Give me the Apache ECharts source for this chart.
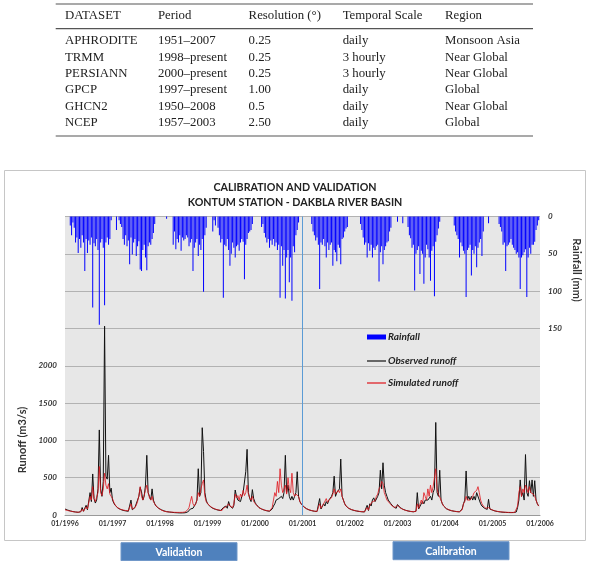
<!DOCTYPE html>
<html>
<head>
<meta charset="utf-8">
<script src="https://cdn.jsdelivr.net/npm/echarts@6.0.0/dist/echarts.min.js"></script>
<style>
  html, body { margin: 0; padding: 0; background: #fff; }
  #main { width: 590px; height: 561px; }
</style>
</head>
<body>
<div id="main"></div>
<script>
// table above the chart
var tableHeader = ['DATASET', 'Period', 'Resolution (°)', 'Temporal Scale', 'Region'];
var tableRows = [
  ['APHRODITE', '1951–2007', '0.25', 'daily', 'Monsoon Asia'],
  ['TRMM', '1998–present', '0.25', '3 hourly', 'Near Global'],
  ['PERSIANN', '2000–present', '0.25', '3 hourly', 'Near Global'],
  ['GPCP', '1997–present', '1.00', 'daily', 'Global'],
  ['GHCN2', '1950–2008', '0.5', 'daily', 'Near Global'],
  ['NCEP', '1957–2003', '2.50', 'daily', 'Global']
];

// chart data: one value per dekad (36 per year), 1996..2005
var years = [1996, 1997, 1998, 1999, 2000, 2001, 2002, 2003, 2004, 2005];
var xTicks = [1996, 1997, 1998, 1999, 2000, 2001, 2002, 2003, 2004, 2005, 2006];

var observedRunoff = [
  [80,72,66,60,55,50,46,43,40,38,36,35, 45,100,50,55,130,70,90,300,180,550,220,160, 200,350,1140,350,250,450,2530,520,480,800,300,360],
  [200,160,130,110,95,85,75,68,62,58,55,52, 50,60,200,70,80,100,120,200,250,370,310,200, 250,400,800,300,250,200,350,200,150,120,100,90],
  [80,70,62,55,50,45,42,40,38,36,34,32, 30,30,29,28,28,28,29,30,35,40,60,80, 100,90,120,150,200,620,250,300,1170,850,300,200],
  [150,130,115,100,90,82,76,70,66,62,60,58, 100,80,120,90,180,120,100,90,130,335,250,200, 220,180,250,300,280,580,880,300,220,180,340,220],
  [170,140,115,100,90,80,72,66,60,56,53,50, 50,80,120,150,200,180,220,200,250,220,300,800, 300,400,250,200,250,200,250,300,580,250,180,150],
  [130,110,95,85,75,68,62,58,54,50,48,46, 60,220,80,90,150,120,180,150,200,180,250,300, 520,250,300,280,350,750,250,250,150,120,100,90],
  [80,72,66,61,57,53,50,47,45,43,42,41, 40,130,60,150,120,200,230,180,200,250,300,600, 350,700,400,300,250,200,180,150,130,110,100,90],
  [140,120,100,88,78,70,64,58,54,50,47,45, 43,42,50,300,80,100,150,180,150,200,180,200, 220,250,200,300,350,1240,300,250,600,200,150,120],
  [100,85,75,68,62,57,53,50,47,45,43,42, 41,80,150,200,590,200,250,200,250,200,250,200, 300,280,200,150,120,100,90,80,75,210,80,70],
  [65,58,53,49,46,43,41,39,37,36,35,34, 33,33,32,32,33,35,40,100,200,470,250,300, 200,810,300,250,460,300,470,250,460,200,150,120]
];

var simulatedRunoff = [
  [70,65,60,56,52,48,45,42,40,38,37,36, 45,80,50,60,110,80,100,250,200,380,220,180, 200,300,650,300,260,350,560,400,350,420,280,250],
  [220,170,135,110,95,85,78,72,67,63,60,58, 56,60,150,80,85,100,130,180,260,380,250,200, 220,330,400,300,230,200,250,180,150,120,100,90],
  [75,66,58,52,48,44,42,40,39,38,37,36, 35,35,35,35,35,36,38,40,50,70,100,180, 250,150,120,150,200,300,250,350,420,470,250,180],
  [160,135,118,104,94,86,79,73,69,65,62,60, 90,80,110,90,150,120,110,100,150,280,230,260, 200,280,240,330,260,300,400,280,230,200,250,180],
  [160,135,112,98,88,80,73,67,62,58,55,53, 55,100,200,300,250,450,300,620,400,300,350,400, 280,500,350,300,560,300,250,280,300,250,180,150],
  [125,108,94,84,76,69,63,59,55,52,50,48, 60,150,90,100,150,130,220,170,200,190,230,280, 350,280,300,330,300,350,250,200,150,120,100,90],
  [82,74,68,63,59,55,52,49,47,45,44,43, 42,100,65,130,120,180,200,190,250,280,350,380, 450,420,300,250,200,180,160,140,120,110,100,90],
  [130,112,96,85,76,69,63,58,54,51,48,46, 44,44,50,150,90,110,200,150,300,250,200,350, 250,400,300,380,400,620,350,280,300,200,150,120],
  [100,86,76,69,63,58,54,51,48,46,44,43, 42,70,150,180,250,200,220,200,200,250,300,280, 330,380,300,200,150,120,100,90,85,100,85,75],
  [68,60,55,51,48,45,43,41,39,38,37,36, 35,35,34,34,35,37,45,120,300,380,250,350, 300,400,350,300,380,300,320,280,250,200,150,120]
];

var rainfall = [
  [0,0,0,0,12,25,8,15,35,28,49,30, 42,25,35,73,30,49,32,38,28,122,36,40, 30,45,145,35,30,42,119,35,28,38,30,5],
  [0,0,0,18,0,5,10,14,30,38,25,40, 32,64,28,51,35,30,53,40,33,71,73,45, 38,55,72,40,35,38,30,22,10,0,0,0],
  [0,0,0,0,0,3,0,0,0,0,38,20, 44,30,35,25,46,28,32,30,25,28,40,35, 30,73,42,35,30,53,38,45,30,101,25,15],
  [0,0,0,0,20,5,12,0,15,25,35,30, 109,38,40,30,45,66,50,35,42,55,40,38, 46,35,30,34,84,38,30,22,20,18,10,0],
  [0,0,0,0,0,14,10,22,28,35,30,42, 32,38,30,40,35,45,38,109,40,66,45,110, 55,45,88,55,113,40,48,25,18,8,0,0],
  [0,0,0,0,0,0,0,10,20,25,32,28, 38,97,35,38,30,40,55,35,45,38,35,66, 45,48,60,38,42,64,30,28,20,16,14,0],
  [0,0,0,0,0,0,0,0,10,18,28,38, 35,55,36,46,38,55,42,45,40,38,87,48, 40,64,45,40,35,33,20,15,0,0,0,0],
  [7,0,0,0,9,0,0,0,14,25,29,42, 38,99,50,45,40,77,46,50,90,55,38,44, 55,86,46,40,107,34,25,16,7,0,0,0],
  [0,0,0,0,0,0,0,12,20,25,30,55, 35,40,46,50,108,45,42,38,79,45,50,40, 68,42,35,30,53,20,0,0,0,9,0,0],
  [0,0,0,0,0,10,14,20,38,35,73,40, 38,35,30,38,42,45,50,48,55,97,55,52, 48,44,108,55,42,50,38,38,34,18,12,5]
];

var splitYear = 2001;

function toSeries(perYear) {
  var out = [];
  perYear.forEach(function (vals, i) {
    vals.forEach(function (v, d) {
      out.push([years[i] + d / 36, v]);
    });
  });
  return out;
}

var chart = echarts.init(document.getElementById('main'));

var font = 'Lato';
var colX = [65, 158, 248.6, 342.7, 445];
var rowY = [41, 57.3, 73.3, 90, 106.7, 122.7];

var elements = [];
// frame round the chart
elements.push({
  type: 'rect', z: -10, silent: true,
  shape: { x: 4.5, y: 170.5, width: 581, height: 370 },
  style: { fill: '#fff', stroke: '#c6c6c6', lineWidth: 1 }
});
// table rules
[4, 28.7, 136].forEach(function (y) {
  elements.push({
    type: 'line', silent: true,
    shape: { x1: 55.7, y1: y, x2: 533, y2: y },
    style: { stroke: '#555', lineWidth: 1.2 }
  });
});
tableHeader.forEach(function (t, c) {
  elements.push({
    type: 'text', silent: true,
    style: { x: colX[c], y: 15.5, text: t, font: '12.8px "Liberation Serif"', fill: '#222', textVerticalAlign: 'middle' }
  });
});
tableRows.forEach(function (row, r) {
  row.forEach(function (t, c) {
    elements.push({
      type: 'text', silent: true,
      style: { x: colX[c], y: rowY[r], text: t, font: '12.8px "Liberation Serif"', fill: '#222', textVerticalAlign: 'middle' }
    });
  });
});
// axis names
elements.push({
  type: 'text', silent: true, x: 22, y: 440, rotation: Math.PI / 2,
  style: { text: 'Runoff (m3/s)', font: 'bold 11px ' + font, fill: '#333', textAlign: 'center', textVerticalAlign: 'middle' }
});
elements.push({
  type: 'text', silent: true, x: 577, y: 270, rotation: -Math.PI / 2,
  style: { text: 'Rainfall (mm)', font: 'bold 11px ' + font, fill: '#333', textAlign: 'center', textVerticalAlign: 'middle' }
});
// period boxes under the chart
[['Validation', 121, 542.7], ['Calibration', 393, 541.7]].forEach(function (b) {
  elements.push({
    type: 'rect', silent: true,
    shape: { x: b[1], y: b[2], width: 116, height: 18 },
    style: { fill: '#4f81bd', stroke: '#6f97c9', lineWidth: 1 }
  });
  elements.push({
    type: 'text', silent: true,
    style: { x: b[1] + 58, y: b[2] + 9.5, text: b[0], font: 'bold 10.5px ' + font, fill: '#fff', textAlign: 'center', textVerticalAlign: 'middle' }
  });
});

var legendText = { fontFamily: font, fontWeight: 'bold', fontStyle: 'italic', fontSize: 10, color: '#222', padding: [0, 0, 0, -3] };

chart.setOption({
  animation: false,
  textStyle: { fontFamily: font },
  title: {
    text: 'CALIBRATION AND VALIDATION\nKONTUM STATION - DAKBLA RIVER BASIN',
    left: 'center', top: 175.5,
    textStyle: { fontFamily: font, fontWeight: 'bold', fontSize: 10.7, lineHeight: 15, color: '#222' }
  },
  legend: [
    {
      data: ['Rainfall'], left: 362, top: 327, icon: 'rect',
      itemWidth: 19, itemHeight: 5, selectedMode: false, textStyle: legendText
    },
    {
      data: ['Observed runoff', 'Simulated runoff'], orient: 'vertical', left: 362, top: 351,
      icon: 'rect', itemWidth: 19, itemHeight: 1.2, itemGap: 12, selectedMode: false, textStyle: legendText
    }
  ],
  grid: {
    left: 65, right: 50, top: 216.5, bottom: 46,
    show: true, backgroundColor: '#e7e7e7', borderWidth: 0
  },
  xAxis: {
    type: 'value', min: 1996, max: 2006, interval: 1,
    axisLine: { show: true, lineStyle: { color: '#999' } },
    axisTick: { show: false },
    splitLine: { show: false },
    axisLabel: {
      margin: 5, fontSize: 7, fontWeight: 'bold', color: '#333',
      showMinLabel: true, showMaxLabel: true,
      formatter: function (v) { return xTicks.indexOf(v) >= 0 ? '01/' + v : ''; }
    }
  },
  yAxis: [
    {
      type: 'value', min: 0, max: 4000, interval: 500,
      axisLine: { show: false }, axisTick: { show: false },
      splitLine: { show: true, lineStyle: { color: '#b2b2b2', width: 1 } },
      axisLabel: {
        margin: 8, fontSize: 8, fontWeight: 'bold', fontStyle: 'italic', color: '#333',
        formatter: function (v) { return v <= 2000 ? String(v) : ''; }
      }
    },
    {
      type: 'value', min: 0, max: 400, interval: 50, inverse: true,
      axisLine: { show: false }, axisTick: { show: false },
      splitLine: { show: false },
      axisLabel: {
        margin: 8, fontSize: 8, fontWeight: 'bold', fontStyle: 'italic', color: '#333',
        formatter: function (v) { return v <= 150 ? String(v) : ''; }
      }
    }
  ],
  series: [
    {
      name: 'Rainfall', type: 'bar', yAxisIndex: 1,
      barWidth: 0.75, itemStyle: { color: '#0000ff' },
      data: toSeries(rainfall)
    },
    {
      name: 'Observed runoff', type: 'line', yAxisIndex: 0,
      symbol: 'none', showSymbol: false,
      itemStyle: { color: '#111' }, lineStyle: { color: '#111', width: 1 },
      data: toSeries(observedRunoff),
      markLine: {
        silent: true, symbol: 'none', label: { show: false },
        lineStyle: { color: '#5b9bd5', width: 1, type: 'solid' },
        data: [{ xAxis: splitYear }]
      }
    },
    {
      name: 'Simulated runoff', type: 'line', yAxisIndex: 0,
      symbol: 'none', showSymbol: false,
      itemStyle: { color: '#e0141c' }, lineStyle: { color: '#e0141c', width: 0.8 },
      data: toSeries(simulatedRunoff)
    }
  ],
  graphic: { elements: elements }
});
</script>
</body>
</html>
